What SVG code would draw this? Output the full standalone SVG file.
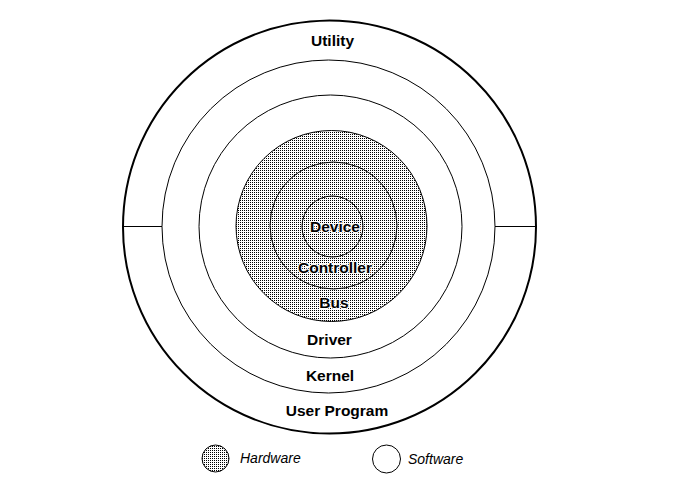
<svg xmlns="http://www.w3.org/2000/svg" width="683" height="493" viewBox="0 0 683 493">
<defs>
<pattern id="dots" x="0" y="0" width="2" height="2" patternUnits="userSpaceOnUse">
<rect x="0" y="0" width="1" height="1" fill="#000"/>
</pattern>
</defs>
<style>
.ring{fill:none;stroke:#000;stroke-width:1}
.hw{fill:url(#dots);stroke:#000;stroke-width:1}
.lbl{font-family:"Liberation Sans",Arial,sans-serif;font-weight:bold;font-size:15.5px;text-anchor:middle;fill:#000}
.halo{paint-order:stroke;stroke:#fff;stroke-width:2px;stroke-linejoin:round}
.leg{font-family:"Liberation Sans",Arial,sans-serif;font-style:italic;font-size:14px;fill:#000}
.line{stroke:#000;stroke-width:1}
</style>
<rect width="683" height="493" fill="#fff"/>
<g id="utility">
<circle cx="329.5" cy="227" r="206.5" fill="#fff" stroke="#000" stroke-width="2"/>
<text class="lbl" x="332.5" y="46">Utility</text>
</g>
<g id="userprogram">
<circle class="ring" cx="328.5" cy="226.5" r="166.5"/>
<text class="lbl" x="337" y="416">User Program</text>
</g>
<g id="kernel">
<circle class="ring" cx="330.5" cy="226.5" r="131.5"/>
<text class="lbl" x="330" y="381">Kernel</text>
</g>
<g id="driver">
<circle class="hw" cx="331.5" cy="226" r="95.5"/>
<text class="lbl" x="329.5" y="345">Driver</text>
</g>
<g id="bus">
<circle class="ring" cx="333.5" cy="225.5" r="63.5"/>
<text class="lbl halo" x="334" y="308">Bus</text>
</g>
<g id="controller">
<circle class="ring" cx="332.5" cy="226.5" r="30.5"/>
<text class="lbl halo" x="335" y="273">Controller</text>
</g>
<g id="device">
<text class="lbl halo" x="335" y="232">Device</text>
</g>
<g id="connectors">
<line class="line" x1="123" y1="226.5" x2="162" y2="226.5"/>
<line class="line" x1="495" y1="226.5" x2="536" y2="226.5"/>
</g>
<g id="legend-hardware">
<circle class="hw" cx="215.5" cy="458.5" r="13.5"/>
<text class="leg" x="240" y="463">Hardware</text>
</g>
<g id="legend-software">
<circle class="ring" cx="386.5" cy="459" r="14"/>
<text class="leg" x="408" y="464">Software</text>
</g>
</svg>
